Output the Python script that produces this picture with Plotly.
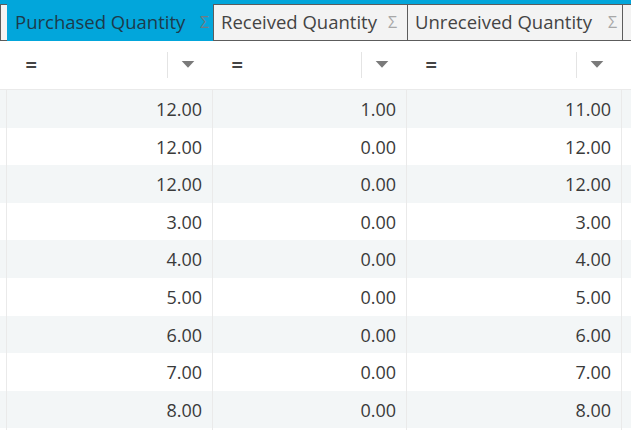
import plotly.graph_objects as go

W, H = 631, 430

# column layout (px): left stub, three quantity columns, right stub
col_widths = [7, 206, 194, 215, 9]
col_titles = ["", "Purchased Quantity", "Received Quantity", "Unreceived Quantity", ""]
sigma_off = [0, 8.5, 15, 9.5, 0]  # sigma centre, px left of the column's right edge

purchased = [12, 12, 12, 3, 4, 5, 6, 7, 8]
received = [1, 0, 0, 0, 0, 0, 0, 0, 0]
unreceived = [11, 12, 12, 3, 4, 5, 6, 7, 8]

BLUE = "#02a6db"
HDR_GRAY = "#f3f3f3"
STRIPE = "#f3f6f7"
GRID = "#eaeaea"
CLEAR = "rgba(0,0,0,0)"
FONT = "Open Sans"

strip_h, header_h, filter_h, row_h = 4, 40, 50, 37.6
data_top = header_h + filter_h


def py(px):
    # pixel from top -> paper y
    return 1 - px / H


edges = [0]
for w in col_widths:
    edges.append(edges[-1] + w)
ncol = len(col_widths)

hdr_text = [t.replace(" ", "\u00a0") for t in col_titles]
hdr_fill = [HDR_GRAY, BLUE, HDR_GRAY, HDR_GRAY, HDR_GRAY]
hdr_line = ["#5c5c5c", BLUE, "#5c5c5c", "#5c5c5c", "#5c5c5c"]
hdr_font = ["#444444", "#1d3b4b", "#444444", "#444444", "#444444"]
filt = ["" if not t else "\u00a0\u00a0<b>=</b>" for t in col_titles]

n = len(purchased)
stripes = [STRIPE if r % 2 == 0 else "white" for r in range(n)]
blank = [""] * n
cols = [blank, purchased, received, unreceived, blank]
fmt = ["", ".2f", ".2f", ".2f", ""]
suf = ["", "\u2009", "\u2009", "\u2009", ""]
aln = ["left", "right", "right", "right", "left"]
dfont = dict(family=FONT, size=18, color="#3a3a3a")

fig = go.Figure()

# backgrounds: header cells + filter row
fig.add_trace(go.Table(
    domain=dict(x=[0, 1], y=[py(data_top), py(strip_h)]),
    columnwidth=col_widths,
    header=dict(values=[""] * ncol, height=header_h - strip_h, fill_color=hdr_fill,
                line=dict(color=hdr_line, width=1)),
    cells=dict(values=[[""]] * ncol, height=filter_h, fill_color="white",
               line=dict(color="white", width=1)),
))
# backgrounds: striped data rows (first row sits in the header slot)
fig.add_trace(go.Table(
    domain=dict(x=[0, 1], y=[0, py(data_top)]),
    columnwidth=col_widths,
    header=dict(values=[[""]] * ncol, height=row_h, fill_color=stripes[0], line=dict(width=0)),
    cells=dict(values=[blank[1:]] * ncol, height=row_h, fill_color=[stripes[1:]] * ncol,
               line=dict(width=0)),
))
# text: titles + filter symbols (nudged down to sit centred)
fig.add_trace(go.Table(
    domain=dict(x=[0, 1], y=[py(data_top), py(strip_h + 3)]),
    columnwidth=col_widths,
    header=dict(values=hdr_text, height=header_h - strip_h, fill_color=CLEAR,
                line=dict(width=0), align="left",
                font=dict(family=FONT, size=18.5, color=hdr_font)),
    cells=dict(values=[[f] for f in filt], height=filter_h, fill_color=CLEAR,
               line=dict(width=0), align="left",
               font=dict(family=FONT, size=20, color="#444444")),
))
# text: data values
fig.add_trace(go.Table(
    domain=dict(x=[0, 1], y=[0, py(data_top + 4.5)]),
    columnwidth=col_widths,
    header=dict(values=[c[:1] for c in cols], format=fmt, suffix=suf,
                height=row_h, fill_color=CLEAR, line=dict(width=0),
                align=aln, font=dfont),
    cells=dict(values=[c[1:] for c in cols], format=fmt, suffix=suf,
               height=row_h, fill_color=CLEAR, line=dict(width=0),
               align=aln, font=dfont),
))

shapes = [
    dict(type="rect", xref="paper", yref="paper", x0=0, x1=1, y0=py(strip_h), y1=1,
         fillcolor=BLUE, line_width=0),
    dict(type="line", xref="paper", yref="paper", x0=0, x1=1,
         y0=py(data_top - 0.5), y1=py(data_top - 0.5), line=dict(color=GRID, width=1)),
]
# vertical grid lines in data area
for e in edges[1:-1]:
    x = (e - 0.5) / W
    shapes.append(dict(type="line", xref="paper", yref="paper", x0=x, x1=x,
                       y0=0, y1=py(data_top), line=dict(color=GRID, width=1)))

annotations = []
for i, t in enumerate(col_titles):
    if not t:
        continue
    right = edges[i + 1]
    # sigma marker in the header
    annotations.append(dict(text="Σ", xref="paper", yref="paper", showarrow=False,
                            x=(right - sigma_off[i]) / W, y=py(22), xanchor="center", yanchor="middle",
                            font=dict(family=FONT, size=16, color="#6d7c84" if i == 1 else "#a8a8a8")))
    # filter separator and dropdown arrow
    sx = (right - 45.5) / W
    shapes.append(dict(type="line", xref="paper", yref="paper", x0=sx, x1=sx,
                       y0=py(78), y1=py(52), line=dict(color="#e4e4e4", width=1)))
    ax = right - 25
    path = "M %f %f L %f %f L %f %f Z" % ((ax - 6.3) / W, py(61), (ax + 6.3) / W, py(61), ax / W, py(67.7))
    shapes.append(dict(type="path", xref="paper", yref="paper", path=path,
                       fillcolor="#7a7a7a", line_width=0))

fig.update_layout(width=W, height=H, margin=dict(l=0, r=0, t=0, b=0),
                  paper_bgcolor="white", shapes=shapes, annotations=annotations)

# the page body has a default 8px margin; drop it so the grid sits flush
fig.write_html("out.html", config={"displayModeBar": False},
               post_script="document.body.style.margin='0px';")
